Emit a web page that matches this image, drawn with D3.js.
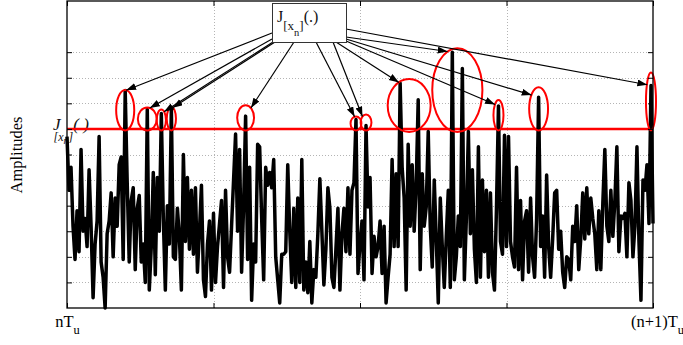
<!DOCTYPE html>
<html><head><meta charset="utf-8">
<script src="https://cdn.jsdelivr.net/npm/d3@7"></script>
<style>body{margin:0;background:#fff} svg{display:block}</style>
</head><body>
<svg id="chart" width="683" height="345"></svg>
<script>
// ---------- data ----------
const amplitudes = [
 6.7,4.6,5.5,3.2,1.9,3.8,2.2,6.2,3.0,3.5,
 2.4,5.4,3.2,0.4,2.5,3.4,6.7,1.8,1.2,0.0,
 2.9,3.4,4.5,2.0,4.3,3.2,5.6,5.9,1.9,8.5,
 4.9,1.8,4.2,4.7,1.5,3.9,4.4,1.8,2.5,1.0,
 7.76,0.7,2.4,5.3,1.3,5.1,3.0,7.6,3.5,0.7,
 4.0,2.5,7.8,2.0,1.9,3.9,2.8,0.7,6.0,2.6,
 5.1,2.3,4.6,2.1,4.7,1.4,3.0,4.8,1.1,0.45,
 2.5,3.4,0.7,3.7,1.0,2.4,3.3,4.2,0.8,4.6,
 2.0,1.4,3.2,5.0,6.8,3.0,6.2,1.4,4.0,7.5,
 1.9,5.5,0.3,2.5,1.8,6.4,6.3,3.5,1.1,5.5,
 4.8,5.3,4.7,5.8,2.0,1.1,0.2,2.1,2.1,2.2,
 5.6,3.0,1.0,3.9,0.8,4.3,1.0,5.8,0.7,1.8,
 0.6,2.6,0.2,1.5,1.2,2.9,5.05,3.0,0.9,2.3,
 4.7,3.9,1.2,0.8,2.3,3.9,0.7,2.9,3.9,2.2,
 4.7,2.1,4.6,4.9,7.37,1.35,2.5,3.4,1.1,7.13,
 3.95,5.1,1.35,2.8,2.0,2.4,3.4,1.35,3.2,0.2,
 1.2,2.1,5.8,2.4,5.25,2.4,8.79,5.5,4.3,0.7,
 6.4,3.2,5.6,3.0,4.8,8.14,1.5,5.25,3.2,3.95,
 6.9,3.2,1.6,5.0,2.7,0.2,4.3,2.4,0.8,2.8,
 4.6,0.8,10.0,1.1,2.0,3.6,2.4,9.36,1.1,3.5,
 6.9,2.9,5.4,2.3,1.0,6.3,1.2,5.0,2.2,4.6,
 1.2,4.5,1.4,0.7,3.9,7.9,2.6,2.1,6.75,2.4,
 6.7,2.6,2.0,1.6,5.5,1.5,4.2,1.1,3.4,3.8,
 1.4,4.3,2.0,1.2,3.5,8.24,2.4,3.6,1.2,5.2,
 2.4,1.2,2.7,4.5,4.6,2.3,3.0,1.4,0.8,2.0,
 1.9,1.1,3.2,2.6,4.0,1.5,2.7,4.5,2.7,4.7,
 2.9,4.3,3.5,2.9,1.5,3.8,1.5,4.1,6.2,3.2,
 2.6,4.6,2.8,4.2,6.3,2.2,3.6,3.5,3.7,2.0,
 4.9,4.2,2.0,3.2,6.3,2.6,0.3,5.0,4.6,5.6,
 3.3,8.7,3.3
];
const threshold = 7;
const yTicks = [1,2,3,4,5,6,7,8,9,10];
const xTickValues = [0,73,146,219,292];
const xTickMain = ["nT","","","","(n+1)T"];
const xTickSub  = ["u","","","","u"];
const yLabel = "Amplitudes";
// peaks (sample indices) grouped by the highlighting ellipses
const peakGroups = [[29],[40],[47],[52],[89],[144],[149],[166,175],[192,197],[215],[235],[291]];

// ---------- annotation layout ----------
const ellipseHalfWidths = [4.5,4.7,2.3,2.3,4.2,2.7,2.7,10.7,12.5,2.5,4.7,2.5]; // in samples
const ellipseTopPad = [0.5,2,4,1.5,11,3,11,4,4,6,10,13];                       // px above peak
const ellipseBottomPad = [1.5,1.5,1.5,1.5,1.5,1.5,1.5,3,3,1.5,1.5,1.5];
const box = {x:272, y:3, w:74, h:39};
const arrowStarts = [[0,30],[0,36],[1,39],[3,39],[22,39],[44,39],[61,39],[64,39],[74,34],[74,38],[74,36],[74,26]];

// ---------- chart ----------
const svg = d3.select("#chart");
const W = 683, H = 345;
const m = {left:67, right:30, top:1, bottom:37};
const x = d3.scaleLinear().domain([0, amplitudes.length-1]).range([m.left, W-m.right]);
const y = d3.scaleLinear().domain([0,12]).range([H-m.bottom, m.top]);
const serif = "'Liberation Serif','Times New Roman',serif";

svg.append("rect").attr("width",W).attr("height",H).attr("fill","#fff");

// grid
const grid = svg.append("g").attr("stroke","#b4b4b4").attr("stroke-width",1).attr("stroke-dasharray","1,2");
grid.selectAll(".gy").data(yTicks).join("line")
  .attr("x1",x.range()[0]).attr("x2",x.range()[1])
  .attr("y1",d=>Math.round(y(d))+0.5).attr("y2",d=>Math.round(y(d))+0.5);
grid.selectAll(".gx").data(xTickValues.slice(1,-1)).join("line")
  .attr("y1",y.range()[0]).attr("y2",y.range()[1])
  .attr("x1",d=>Math.round(x(d))+0.5).attr("x2",d=>Math.round(x(d))+0.5);

// threshold label (partly hidden by the signal, as in the original)
const ty = y(threshold);
const tl = svg.append("text").attr("x", x(0)-14).attr("y", ty+1)
  .attr("font-family",serif).attr("font-style","italic").attr("font-size",17).attr("fill","#111");
tl.append("tspan").text("J");
tl.append("tspan").attr("dx",-7).attr("dy",11).attr("font-size",12).text("[x");
tl.append("tspan").attr("dy",3).attr("font-size",10).text("n");
tl.append("tspan").attr("dy",-3).attr("font-size",12).text("]");
tl.append("tspan").attr("dy",-11).attr("font-size",17).text("(.)");

// threshold line
svg.append("line").attr("x1",x.range()[0]).attr("x2",x.range()[1])
  .attr("y1",ty).attr("y2",ty).attr("stroke","#ff0000").attr("stroke-width",2.5);

// signal
svg.append("path").datum(amplitudes)
  .attr("d", d3.line().x((d,i)=>x(i)).y(d=>y(d)))
  .attr("fill","none").attr("stroke","#000").attr("stroke-width",3.5).attr("stroke-linejoin","round");

// ellipses
const dxSample = x(1)-x(0);
const ellipses = peakGroups.map((g,k)=>{
  const cx = d3.mean(g, i=>x(i));
  const maxI = g.reduce((a,b)=>amplitudes[b]>amplitudes[a]?b:a, g[0]);
  const top = y(amplitudes[maxI]) - ellipseTopPad[k];
  const bottom = ty + ellipseBottomPad[k];
  return {cx, cy:(top+bottom)/2, rx:ellipseHalfWidths[k]*dxSample, ry:(bottom-top)/2,
          px:x(maxI), py:y(amplitudes[maxI])};
});
svg.append("g").selectAll("ellipse").data(ellipses).join("ellipse")
  .attr("cx",d=>d.cx).attr("cy",d=>d.cy).attr("rx",d=>d.rx).attr("ry",d=>d.ry)
  .attr("fill","none").attr("stroke","#ff0000").attr("stroke-width",2);

// frame + inward ticks
const axG = svg.append("g").attr("font-size",0);
axG.append("g").attr("transform",`translate(${x.range()[0]},0)`).call(d3.axisLeft(y).tickValues(yTicks).tickSize(-5).tickFormat(""));
axG.append("g").attr("transform",`translate(${x.range()[1]},0)`).call(d3.axisRight(y).tickValues(yTicks).tickSize(-5).tickFormat(""));
axG.append("g").attr("transform",`translate(0,${y.range()[1]})`).call(d3.axisTop(x).tickValues(xTickValues).tickSize(-5).tickFormat(""));
const xb = axG.append("g").attr("transform",`translate(0,${y.range()[0]})`).call(d3.axisBottom(x).tickValues(xTickValues).tickSize(-5).tickFormat(""));
axG.selectAll(".domain").remove();
axG.selectAll(".tick line").attr("stroke","#000");
svg.append("rect").attr("x",x.range()[0]).attr("y",y.range()[1])
  .attr("width",x.range()[1]-x.range()[0]).attr("height",y.range()[0]-y.range()[1])
  .attr("fill","none").attr("stroke","#000").attr("stroke-width",1.3);

// x tick labels
xb.selectAll(".tick").each(function(d,i){
  if(!xTickMain[i]) return;
  const t = d3.select(this).append("text").attr("fill","#000").attr("y",19)
    .attr("font-family",serif).attr("font-size",16.5).attr("text-anchor","middle")
    .attr("dx", i===0?0:4);
  t.append("tspan").text(xTickMain[i]);
  t.append("tspan").attr("dy",7).attr("font-size",12.5).text(xTickSub[i]);
});

// y label
svg.append("text").attr("transform",`translate(22,155) rotate(-90)`)
  .attr("text-anchor","middle").attr("font-family",serif).attr("font-size",16.5).text(yLabel);

// arrows
const defs = svg.append("defs");
defs.append("marker").attr("id","ah").attr("markerUnits","userSpaceOnUse")
  .attr("markerWidth",11).attr("markerHeight",8).attr("refX",10).attr("refY",3.5).attr("orient","auto")
  .append("path").attr("d","M0,0 L10,3.5 L0,7 Z").attr("fill","#000");
const arrows = ellipses.map((e,k)=>{
  const sx = box.x + arrowStarts[k][0], sy = box.y + arrowStarts[k][1];
  let ex = e.px, ey = e.py;
  for(let t=0;t<=1;t+=0.002){
    const px = sx + (e.px-sx)*t, py = sy + (e.py-sy)*t;
    if(((px-e.cx)/e.rx)**2 + ((py-e.cy)/e.ry)**2 <= 1){ ex=px; ey=py; break; }
  }
  return {sx,sy,ex,ey};
});
svg.append("g").selectAll("line").data(arrows).join("line")
  .attr("x1",d=>d.sx).attr("y1",d=>d.sy).attr("x2",d=>d.ex).attr("y2",d=>d.ey)
  .attr("stroke","#000").attr("stroke-width",1.2).attr("marker-end","url(#ah)");

// box
svg.append("rect").attr("x",box.x+0.5).attr("y",box.y+0.5).attr("width",box.w).attr("height",box.h)
  .attr("fill","#fff").attr("stroke","#333").attr("stroke-width",1);
const bt = svg.append("text").attr("x",box.x+5).attr("y",box.y+19)
  .attr("font-family",serif).attr("font-size",16).attr("fill","#111");
bt.append("tspan").text("J");
bt.append("tspan").attr("dy",8).attr("font-size",13).text("[x");
bt.append("tspan").attr("dy",6).attr("font-size",10.5).text("n");
bt.append("tspan").attr("dy",-6).attr("font-size",13).text("]");
bt.append("tspan").attr("dy",-8).attr("font-size",16).text("(.)");
</script>
</body></html>
